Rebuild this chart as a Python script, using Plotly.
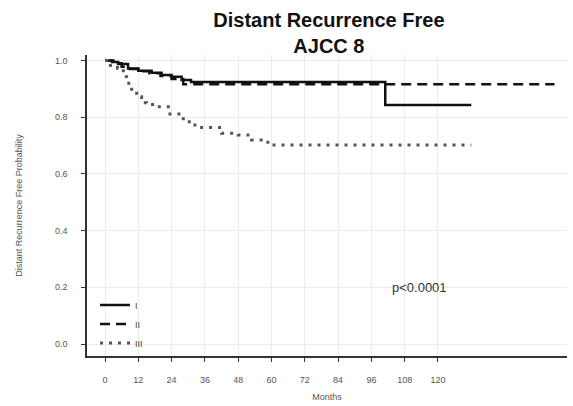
import plotly.graph_objects as go

# Kaplan-Meier step data
months_I = [0, 2.5, 4.7, 8.3, 12, 16.8, 20.4, 24, 27.6, 31, 101, 132]
surv_I = [1.0, 0.995, 0.988, 0.972, 0.964, 0.957, 0.949, 0.943, 0.931, 0.924, 0.843, 0.843]

months_II = [0, 3, 6, 9, 12, 16, 20, 24, 28.2, 162]
surv_II = [1.0, 0.99, 0.978, 0.97, 0.962, 0.955, 0.945, 0.935, 0.916, 0.916]

months_III = [0, 1, 4.5, 6.6, 7.8, 9.6, 11.4, 13.2, 15, 18.6, 22.8, 28.2, 32.4, 42, 48, 52.8, 58.7, 132]
surv_III = [1.0, 0.982, 0.973, 0.943, 0.92, 0.89, 0.872, 0.851, 0.845, 0.837, 0.811, 0.784, 0.764, 0.743, 0.737, 0.72, 0.702, 0.702]

group_names = ["I", "II", "III"]
x_ticks = list(range(0, 121, 12))
y_ticks = [0.0, 0.2, 0.4, 0.6, 0.8, 1.0]
y_tick_labels = ["0.0", "0.2", "0.4", "0.6", "0.8", "1.0"]
p_text = "p<0.0001"

fig = go.Figure()
fig.add_trace(go.Scatter(x=months_I, y=surv_I, mode="lines", name=group_names[0],
                         line=dict(shape="hv", color="#111111", width=2.5)))
fig.add_trace(go.Scatter(x=months_II, y=surv_II, mode="lines", name=group_names[1],
                         line=dict(shape="hv", color="#111111", width=2.5, dash="10px,6px")))
fig.add_trace(go.Scatter(x=months_III, y=surv_III, mode="lines", name=group_names[2],
                         line=dict(shape="hv", color="#555555", width=3, dash="3px,6px")))

fig.add_annotation(x=113.5, y=0.2, text=p_text, showarrow=False,
                   font=dict(family="Liberation Sans, Arial", size=13, color="#333333"))

fig.update_layout(
    width=573, height=406,
    margin=dict(l=87, r=6, t=55, b=50, autoexpand=False),
    paper_bgcolor="white", plot_bgcolor="white",
    font=dict(family="Liberation Sans, Arial", size=9, color="#555555"),
    title=dict(text="<b>Distant Recurrence Free<br>AJCC 8</b>",
               x=0.504, xref="paper", xanchor="center",
               y=1 - 26.5 / 406, yref="container", yanchor="middle",
               automargin=False,
               font=dict(family="Liberation Sans, Arial", size=20, color="#111111")),
    showlegend=True,
    legend=dict(x=0.0167, y=-0.005, xanchor="left", yanchor="bottom",
                bgcolor="rgba(0,0,0,0)", tracegroupgap=0,
                font=dict(size=9, color="#444444")),
    xaxis=dict(range=[-6.49, 166.5], tickvals=x_ticks, ticktext=[str(v) for v in x_ticks],
               showgrid=True, gridcolor="#ebebeb", gridwidth=1, zeroline=False,
               showline=True, linecolor="#333333", linewidth=1.5, automargin=False,
               ticks="outside", ticklen=4, tickcolor="#333333", ticklabelstandoff=10,
               title=dict(text="Months", font=dict(size=9, color="#555555"), standoff=10)),
    yaxis=dict(range=[-0.0423, 1.0194], tickvals=y_ticks, ticktext=y_tick_labels,
               showgrid=True, gridcolor="#ebebeb", gridwidth=1, zeroline=False,
               showline=True, linecolor="#333333", linewidth=1.5, automargin=False,
               ticks="outside", ticklen=4, tickcolor="#333333", ticklabelstandoff=12,
               title=dict(text="Distant Recurrence Free Probability",
                          font=dict(size=9, color="#555555"), standoff=31)),
)

fig.write_html("out.html", config={"displayModeBar": False},
               post_script="document.body.style.margin='0';document.body.style.overflow='hidden';")
